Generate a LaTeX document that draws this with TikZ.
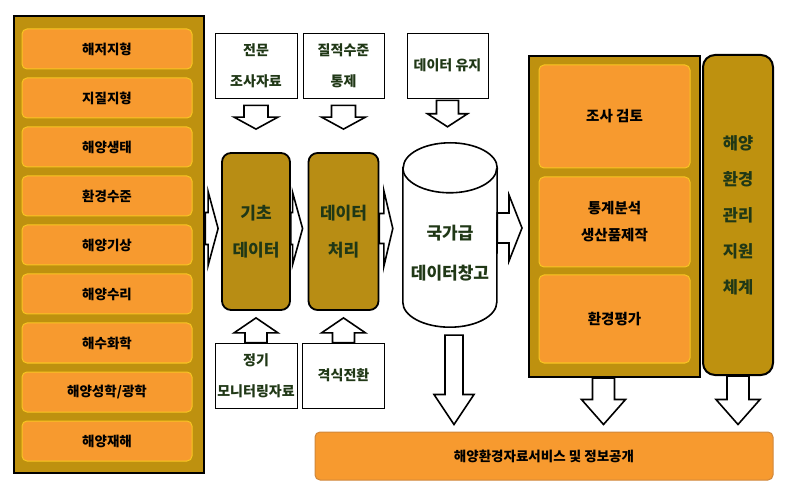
\documentclass[tikz,border=0pt]{standalone}
\usepackage{fontspec}
\setmainfont{Noto Sans CJK KR}
\usetikzlibrary{calc}
\definecolor{btnorange}{RGB}{247,154,47}
\definecolor{panelgold}{RGB}{190,145,15}
\definecolor{boxgold}{RGB}{184,141,20}
\definecolor{txtgreen}{RGB}{32,56,22}
\newcommand\hollowarrow[5]{%
\draw[arrowline] let \p1=($(#2)!#5!(#1)$) in
  ($(#1)!#3!90:(#2)$) -- ($(\p1)!#3!90:(#2)$) -- ($(\p1)!#4!90:(#2)$) -- (#2)
  -- ($(\p1)!#4!-90:(#2)$) -- ($(\p1)!#3!-90:(#2)$) -- ($(#1)!#3!-90:(#2)$) -- cycle;}
\begin{document}
\begin{tikzpicture}[x=1pt,y=-1pt,
  btn/.style={draw=yellow!45!btnorange,line width=1pt,fill=btnorange,rounded corners=5pt,
    font=\fontsize{13.5}{15}\selectfont\bfseries,align=center,inner sep=0pt},
  panel/.style={draw=black,line width=2.5pt,fill=panelgold,inner sep=0pt},
  goldbox/.style={draw=black,line width=1.8pt,fill=boxgold,rounded corners=9pt,text=txtgreen,
    font=\fontsize{17}{37}\selectfont\bfseries,align=center,inner sep=0pt},
  infobox/.style={draw=black,line width=0.8pt,fill=white,text=txtgreen,
    font=\fontsize{14}{31}\selectfont\bfseries,align=center,inner sep=0pt},
  arrowline/.style={draw=black,fill=white,line width=1.6pt,line join=miter}]
\useasboundingbox (0,0) rectangle (790,494);
\node[panel,minimum width=190pt,minimum height=457pt] (panel) at (109,244.5) {};
\foreach \lbl [count=\i] in {해저지형,지질지형,해양생태,환경수준,해양기상,해양수리,해수화학,해양성학/광학,해양재해}
{
	\node[btn,minimum width=170pt,minimum height=40pt] (b\i) at (107,{49*\i}) {\lbl};
}
\node[infobox,minimum width=82pt,minimum height=65pt] (jeonmun) at (256,65.5) {전문\\조사자료};
\node[infobox,minimum width=81pt,minimum height=65pt] (jiljeok) at (343.5,65.5) {질적수준\\통제};
\node[infobox,minimum width=81pt,minimum height=65pt] (yuji) at (447.5,65.5) {데이터 유지};
\node[goldbox,minimum width=68pt,minimum height=157pt] (kicho) at (256,231.5) {기초\\데이터};
\node[goldbox,minimum width=70pt,minimum height=157pt] (cheori) at (343.5,231.5) {데이터\\처리};
\node[infobox,minimum width=82pt,minimum height=65pt] (jeonggi) at (256,375.5) {정기\\모니터링자료};
\node[infobox,minimum width=82pt,minimum height=65pt] (gyeoksik) at (343.5,375.5) {격식전환};
\node[minimum width=94pt,minimum height=184pt,inner sep=0pt] (dw) at (450,235) {};
\draw[line width=1.6pt,fill=white] ([yshift=-25pt]dw.north west) -- ([yshift=25pt]dw.south west)
  arc[start angle=180,end angle=360,x radius=47pt,y radius=25pt] -- ([yshift=-25pt]dw.north east)
  arc[start angle=0,end angle=180,x radius=47pt,y radius=25pt] -- cycle;
\draw[line width=1.6pt] ([yshift=-25pt]dw.north west) arc[start angle=180,end angle=360,x radius=47pt,y radius=25pt];
\node[text=txtgreen,font=\fontsize{17}{40}\selectfont\bfseries,align=center] (dwlbl) at (450,253) {국가급\\데이터창고};
\node[panel,line width=2pt,minimum width=171pt,minimum height=321pt] (rpanel) at (614.5,216.5) {};
\node[btn,font=\fontsize{14.5}{27}\selectfont\bfseries,minimum width=151pt,minimum height=103pt] (josa) at (614.5,116.5) {조사 검토};
\node[btn,font=\fontsize{14.5}{27}\selectfont\bfseries,minimum width=151pt,minimum height=90pt] (tonggye) at (614.5,222) {통계분석\\생산품제작};
\node[btn,font=\fontsize{14.5}{27}\selectfont\bfseries,minimum width=151pt,minimum height=88pt] (pyeongga) at (614.5,319) {환경평가};
\node[goldbox,fill=panelgold,line width=2pt,rounded corners=12pt,font=\fontsize{16.5}{36}\selectfont\bfseries,
  minimum width=70pt,minimum height=320pt] (chegye) at (738,215) {해양\\환경\\관리\\지원\\체계};
\node[btn,draw=brown!70!btnorange,font=\fontsize{13.5}{16}\selectfont\bfseries,
  minimum width=458pt,minimum height=48pt] (service) at (544,456) {해양환경자료서비스 및 정보공개};
\coordinate (t1s) at ($(jeonmun.south)+(0,7)$);
\coordinate (t1e) at ($(kicho.north)+(0,-23)$);
\coordinate (t2s) at ($(jiljeok.south)+(0,7)$);
\coordinate (t2e) at ($(cheori.north)+(0,-23)$);
\coordinate (t3s) at ($(yuji.south)+(0,2)$);
\coordinate (t3e) at ($(t3s |- dw.north)+(0,-16)$);
\coordinate (u1e) at ($(kicho.south)+(0,7)$);
\coordinate (u2e) at ($(cheori.south)+(0,7)$);
\coordinate (h1s) at ($(panel.east |- kicho)+(0,-3)$);
\coordinate (h1e) at ($(h1s -| kicho.west)+(-3,0)$);
\coordinate (h2s) at ($(kicho.east)+(0,-3)$);
\coordinate (h2e) at ($(h2s -| cheori.west)+(-5,0)$);
\coordinate (h3s) at ($(cheori.east)+(0,-3)$);
\coordinate (h3e) at ($(h3s -| dw.west)+(-10,0)$);
\coordinate (h4s) at ($(dw.east)+(0,-7)$);
\coordinate (h4e) at ($(h4s -| rpanel.west)+(-6,0)$);
\coordinate (d1s) at ($(dw.south)+(4,8)$);
\coordinate (d1e) at ($(d1s |- service.north)+(0,-7)$);
\coordinate (d2s) at ($(rpanel.south)+(-11,0)$);
\coordinate (d2e) at ($(d2s |- service.north)+(0,-7)$);
\coordinate (d3e) at ($(chegye.south |- service.north)+(0,-7)$);
\hollowarrow{t1s}{t1e}{12pt}{22pt}{12pt}
\hollowarrow{t2s}{t2e}{12pt}{22pt}{12pt}
\hollowarrow{t3s}{t3e}{11pt}{20pt}{13pt}
\hollowarrow{jeonggi.north}{u1e}{11pt}{22pt}{15pt}
\hollowarrow{gyeoksik.north}{u2e}{11pt}{22pt}{15pt}
\hollowarrow{h1s}{h1e}{16pt}{37pt}{10pt}
\hollowarrow{h2s}{h2e}{16pt}{36pt}{10pt}
\hollowarrow{h3s}{h3e}{15pt}{38pt}{9pt}
\hollowarrow{h4s}{h4e}{15pt}{33pt}{13pt}
\hollowarrow{d1s}{d1e}{9pt}{20pt}{30pt}
\hollowarrow{d2s}{d2e}{11pt}{22pt}{25pt}
\hollowarrow{chegye.south}{d3e}{11pt}{22pt}{25pt}
\end{tikzpicture}
\end{document}
